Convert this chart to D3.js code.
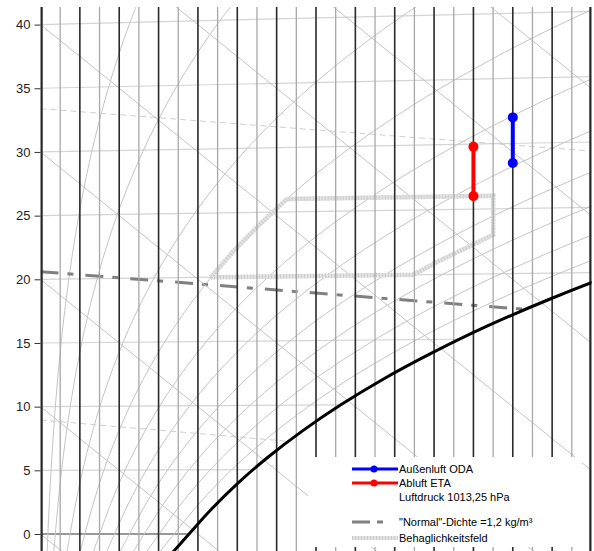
<!DOCTYPE html>
<html>
<head>
<meta charset="utf-8">
<script src="https://cdn.jsdelivr.net/npm/d3@7"></script>
<style>
body { margin: 0; background: #fff; }
svg { display: block; font-family: "Liberation Sans", Arial, sans-serif; }
</style>
</head>
<body>
<svg id="chart" width="594" height="551"></svg>
<script>
// h,x-Diagramm (Mollier) - Luftdruck 1013,25 hPa
const airPressure = 1013.25

// saturation vapour pressure table, hPa (ice below 0 °C)
const satTemps = [-2, 0, 2, 4, 6, 8, 10, 12, 14, 16, 18, 20, 22, 24, 26, 28, 30, 32, 34, 36, 38, 40, 42]
const satPressure = [5.18, 6.11, 7.06, 8.13, 9.35, 10.73, 12.28, 14.02, 15.99, 18.17, 20.64, 23.39,
    26.45, 29.85, 33.63, 37.81, 42.46, 47.60, 53.24, 59.48, 66.31, 73.84, 82.09]

const rhLevels = [5, 10, 20, 30, 40, 50, 60, 70, 80, 90]
const isotherms = [0, 5, 10, 15, 20, 25, 30, 35, 40]
const enthalpies = [0, 10, 20, 30, 40, 50, 60, 70, 80]
const yTicks = [0, 5, 10, 15, 20, 25, 30, 35, 40]
const waterLines = d3.range(0, 14.01, 0.5)

// density lines, [x g/kg, t °C]
const densityThin = [
    [[0, 33.4], [14, 29.3]],
    [[0, 8.95], [14, 5.1]]
]
const densityNormal = [[0, 20.6], [14, 16.8]]

// Behaglichkeitsfeld, [x g/kg, t °C]
const comfortZone = [[4.33, 20], [4.9, 22], [5.55, 24], [6.26, 26], [11.5, 26], [11.5, 23],
    [10.8, 22], [10.1, 21], [9.47, 20], [4.33, 20]]

// Außenluft ODA / Abluft ETA
const odaX = 12
const odaT = [28.5, 32]
const etaX = 11
const etaT = [26, 29.8]

const svg = d3.select("#chart")
const plotTop = 7, plotBottom = 551, plotLeft = 40.5, plotRight = 591.5

const xScale = d3.scaleLinear().domain([0, 14]).range([plotLeft, plotRight])
const yScale = d3.scaleLinear().domain([0, 40]).range([534, 24.6])

// chart coordinates: y = t + 1.86 x t (x in kg/kg)
const px = g => xScale(g)
const py = (g, t) => yScale(t * (1 + 1.86 * g / 1000))
const satX = (ps, phi) => 622 * phi * ps / (airPressure - phi * ps)

const satCurve = satTemps.map((t, i) => [satX(satPressure[i], 1), t])

const line = d3.line().x(d => px(d[0])).y(d => py(d[0], d[1]))
const smooth = d3.line().x(d => px(d[0])).y(d => py(d[0], d[1])).curve(d3.curveCatmullRom)

const defs = svg.append("defs")
defs.append("clipPath").attr("id", "plot")
    .append("rect").attr("x", plotLeft).attr("y", plotTop)
    .attr("width", plotRight - plotLeft).attr("height", plotBottom - plotTop)
defs.append("clipPath").attr("id", "unsat")
    .append("path")
    .attr("d", smooth(satCurve) + `L${plotLeft - 5},-50L${plotLeft - 5},${plotBottom + 50}Z`)

const plot = svg.append("g").attr("clip-path", "url(#plot)")
const dry = plot.append("g").attr("clip-path", "url(#unsat)")

// isotherms
dry.selectAll("line.iso")
    .data(isotherms)
    .join("line")
    .attr("x1", px(0)).attr("x2", px(14))
    .attr("y1", t => py(0, t)).attr("y2", t => py(14, t))
    .attr("stroke", t => t === 0 ? "#333" : "#d4d4d4")
    .attr("stroke-width", 1.2)

// enthalpy lines
plot.selectAll("line.h")
    .data(enthalpies)
    .join("line")
    .attr("x1", px(0)).attr("x2", px(14))
    .attr("y1", h => yScale(h)).attr("y2", h => yScale(h - 2.501 * 14))
    .attr("stroke", "#c4c4c4")
    .attr("stroke-width", 1)

// relative humidity curves
dry.selectAll("path.rh")
    .data(rhLevels)
    .join("path")
    .attr("d", r => smooth(satTemps.map((t, i) => [satX(satPressure[i], r / 100), t])))
    .attr("fill", "none")
    .attr("stroke", "#c4c4c4")
    .attr("stroke-width", 1)

// density lines
dry.selectAll("path.rho")
    .data(densityThin)
    .join("path")
    .attr("d", line)
    .attr("fill", "none")
    .attr("stroke", "#cfcfcf")
    .attr("stroke-width", 1)
    .attr("stroke-dasharray", "6 4")

// comfort zone
plot.append("path").attr("d", line(comfortZone))
    .attr("fill", "none").attr("stroke", "#e2e2e2").attr("stroke-width", 4.5)
plot.append("path").attr("d", line(comfortZone))
    .attr("fill", "none").attr("stroke", "#cdcdcd").attr("stroke-width", 4.5)
    .attr("stroke-dasharray", "1 2")

dry.append("path").attr("d", line(densityNormal))
    .attr("fill", "none")
    .attr("stroke", "#808080")
    .attr("stroke-width", 3)
    .attr("stroke-dasharray", "18 9 6 12")

// water content lines
plot.selectAll("line.x")
    .data(waterLines)
    .join("line")
    .attr("x1", px).attr("x2", px)
    .attr("y1", plotTop).attr("y2", plotBottom)
    .attr("stroke", g => g % 1 === 0 ? "#2a2a2a" : "#a8a8a8")
    .attr("stroke-width", g => (g === 0 || g === 14) ? 4.5 : (g % 1 === 0 ? 1.6 : 1.3))

// saturation curve
plot.append("path").attr("d", smooth(satCurve))
    .attr("fill", "none").attr("stroke", "#000").attr("stroke-width", 3)

// y axis
const axis = svg.append("g")
    .attr("transform", `translate(${plotLeft},0)`)
    .call(d3.axisLeft(yScale).tickValues(yTicks).tickSize(6).tickPadding(4))
axis.select(".domain").remove()
axis.selectAll("line").attr("stroke", "#333")
axis.selectAll("text").attr("font-size", 13).attr("fill", "#222")
    .attr("font-family", "'Liberation Sans', Arial, sans-serif")

// measured states
const states = [
    {x: odaX, t: odaT, color: "#0000ff"},
    {x: etaX, t: etaT, color: "#ff0000"}
]
states.forEach(s => {
    const g = svg.append("g")
    g.append("line")
        .attr("x1", px(s.x)).attr("x2", px(s.x))
        .attr("y1", py(s.x, s.t[0])).attr("y2", py(s.x, s.t[1]))
        .attr("stroke", s.color).attr("stroke-width", 4)
    g.selectAll("circle").data(s.t).join("circle")
        .attr("cx", px(s.x)).attr("cy", t => py(s.x, t))
        .attr("r", 5).attr("fill", s.color)
})

// legend
const legend = svg.append("g")
legend.append("rect").attr("x", 308).attr("y", 457).attr("width", 274).attr("height", 90).attr("fill", "#fff")

const legendItems = [
    {label: "Außenluft ODA", y: 469, kind: "state", color: "#0000ff"},
    {label: "Abluft ETA", y: 483, kind: "state", color: "#ff0000"},
    {label: "Luftdruck 1013,25 hPa", y: 497, kind: "none"},
    {label: "\"Normal\"-Dichte =1,2 kg/m³", y: 522, kind: "density"},
    {label: "Behaglichkeitsfeld", y: 538, kind: "comfort"}
]
legendItems.forEach(d => {
    if (d.kind === "state") {
        legend.append("line").attr("x1", 352).attr("x2", 398).attr("y1", d.y).attr("y2", d.y)
            .attr("stroke", d.color).attr("stroke-width", 3)
        legend.append("circle").attr("cx", 374).attr("cy", d.y).attr("r", 3.5).attr("fill", d.color)
    } else if (d.kind === "density") {
        legend.append("line").attr("x1", 352).attr("x2", 398).attr("y1", d.y).attr("y2", d.y)
            .attr("stroke", "#808080").attr("stroke-width", 3).attr("stroke-dasharray", "18 7 6 40")
    } else if (d.kind === "comfort") {
        legend.append("line").attr("x1", 352).attr("x2", 398).attr("y1", d.y).attr("y2", d.y)
            .attr("stroke", "#e2e2e2").attr("stroke-width", 4)
        legend.append("line").attr("x1", 352).attr("x2", 398).attr("y1", d.y).attr("y2", d.y)
            .attr("stroke", "#cdcdcd").attr("stroke-width", 4).attr("stroke-dasharray", "1 2")
    }
    legend.append("text").attr("x", 399).attr("y", d.y).attr("dy", "0.35em")
        .attr("font-size", 11).attr("fill", "#000").text(d.label)
})
</script>
</body>
</html>
